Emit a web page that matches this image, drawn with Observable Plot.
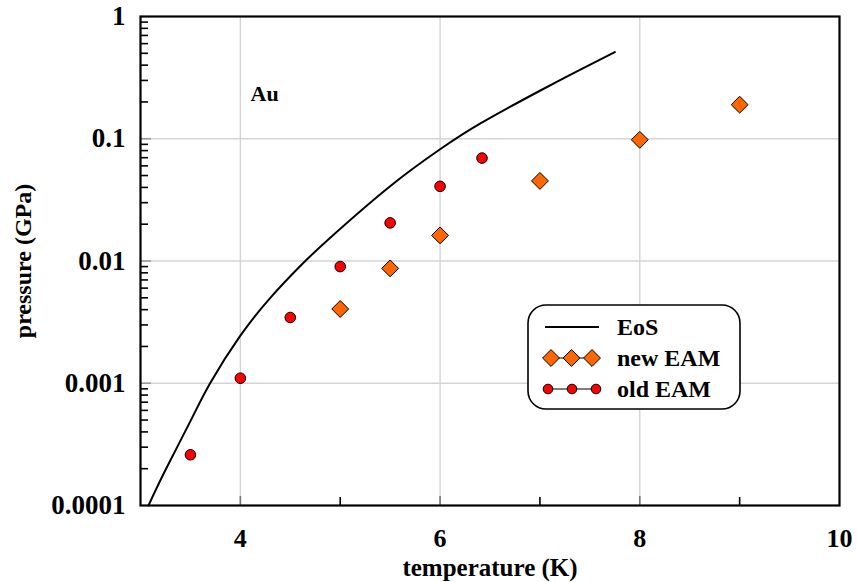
<!DOCTYPE html>
<html>
<head>
<meta charset="utf-8">
<script src="https://cdn.jsdelivr.net/npm/d3@7"></script>
<script src="https://cdn.jsdelivr.net/npm/@observablehq/plot@0.6"></script>
<style>
  body { margin: 0; background: #fff; }
  #chart { width: 858px; height: 582px; }
</style>
</head>
<body>
<div id="chart"></div>
<script>
// Equation-of-state curve: temperature (K) vs pressure (GPa)
const eosT = [3.08, 3.25, 3.5, 3.7, 4.0, 4.3, 4.6, 4.9, 5.5, 6.0, 6.4, 7.0, 7.4, 7.75];
const eosP = [0.0001, 0.000195, 0.00049, 0.00101, 0.00245, 0.0050, 0.0091, 0.0155, 0.0409, 0.082, 0.1329, 0.247, 0.366, 0.512];

// New EAM potential results
const newT = [5, 5.5, 6, 7, 8, 9];
const newP = [0.00405, 0.0087, 0.0162, 0.0452, 0.098, 0.19];

// Old EAM potential results
const oldT = [3.5, 4, 4.5, 5, 5.5, 6, 6.42];
const oldP = [0.00026, 0.00110, 0.00345, 0.0090, 0.0205, 0.0408, 0.0695];

const xTicks = [4, 6, 8, 10];
const xTickLabels = ["4", "6", "8", "10"];
const xMinor = [5, 7, 9];
const yTicks = [1, 0.1, 0.01, 0.001, 0.0001];
const yTickLabels = ["1", "0.1", "0.01", "0.001", "0.0001"];
const legendLabels = ["EoS", "new EAM", "old EAM"];

const serif = "'Liberation Serif', 'Times New Roman', Times, serif";
const W = 858, H = 582, mL = 140, mR = 19, mT = 16, mB = 77;
const frameW = W - mL - mR, frameH = H - mT - mB;

const eos = eosT.map((t, i) => ({t, p: eosP[i]}));
const newEam = newT.map((t, i) => ({t, p: newP[i]}));
const oldEam = oldT.map((t, i) => ({t, p: oldP[i]}));
const yLabelRows = yTicks.map((v, i) => ({v, label: yTickLabels[i]}));
const xLabelRows = xTicks.map((v, i) => ({v, label: xTickLabels[i]}));

// log minor ticks 2..9 within each decade
const yMinor = [];
for (let e = -4; e < 0; e++) for (let m = 2; m <= 9; m++) yMinor.push(m * Math.pow(10, e));

const RED = "#ff0000", ORANGE = "#ff6600";
const circleR = 5.3, diamondR = 7.6;

const chart = Plot.plot({
  width: W, height: H,
  marginLeft: mL, marginRight: mR, marginTop: mT, marginBottom: mB,
  style: {fontFamily: serif, background: "white", overflow: "visible"},
  x: {domain: [3, 10], axis: null},
  y: {type: "log", domain: [1e-4, 1], axis: null},
  marks: [
    Plot.gridX([4, 6, 8], {stroke: "#d4d4d4", strokeOpacity: 1, strokeWidth: 1.4}),
    Plot.gridY([0.1, 0.01, 0.001], {stroke: "#d4d4d4", strokeOpacity: 1, strokeWidth: 1.4}),
    // inward ticks
    Plot.ruleX([4, 6, 8], {insetTop: frameH - 9, stroke: "#777", strokeWidth: 1.6}),
    Plot.ruleX(xMinor, {insetTop: frameH - 8, stroke: "black", strokeWidth: 1.6}),
    Plot.ruleY([0.1, 0.01, 0.001], {insetRight: frameW - 11, stroke: "#999", strokeWidth: 1.6}),
    Plot.ruleY(yMinor, {insetRight: frameW - 8, stroke: "black", strokeWidth: 1.6}),
    Plot.line(eos, {x: "t", y: "p", curve: "natural", stroke: "black", strokeWidth: 2}),
    Plot.dot(oldEam, {x: "t", y: "p", r: circleR, fill: RED, stroke: "black", strokeWidth: 1}),
    Plot.dot(newEam, {x: "t", y: "p", symbol: "diamond2", r: diamondR, fill: ORANGE, stroke: "black", strokeWidth: 1}),
    Plot.frame({stroke: "black", strokeWidth: 2.2}),
    // tick labels
    Plot.text(xLabelRows, {x: "v", text: "label", frameAnchor: "bottom", lineAnchor: "top", dy: 23,
      fontSize: 26, fontWeight: "bold"}),
    Plot.text(yLabelRows, {y: "v", text: "label", frameAnchor: "left", textAnchor: "end", lineAnchor: "middle", dx: -15,
      fontSize: 27, fontWeight: "bold"}),
    // axis titles and annotation
    Plot.text(["temperature (K)"], {text: d => d, frameAnchor: "bottom", textAnchor: "middle", lineAnchor: "bottom",
      dy: 70, fontSize: 25, fontWeight: "bold"}),
    Plot.text(["pressure (GPa)"], {text: d => d, frameAnchor: "left", textAnchor: "middle", lineAnchor: "middle",
      rotate: -90, dx: -117, fontSize: 24, fontWeight: "bold"}),
    Plot.text(["Au"], {text: d => d, frameAnchor: "top-left", textAnchor: "start", lineAnchor: "middle",
      dx: 110, dy: 77, fontSize: 22, fontWeight: "bold"})
  ]
});

document.getElementById("chart").appendChild(chart);

// Legend box
const svg = d3.select(chart);
const lg = svg.append("g").attr("font-family", serif).attr("font-weight", "bold")
  .attr("font-size", 24).attr("text-anchor", "start");
lg.append("rect").attr("x", 528).attr("y", 305).attr("width", 212).attr("height", 104).attr("rx", 18)
  .attr("fill", "white").attr("stroke", "black").attr("stroke-width", 1.6);

const sx0 = 547, sx1 = 596, rows = [327, 358, 389];
// EoS sample
lg.append("line").attr("x1", 545).attr("x2", 599).attr("y1", rows[0]).attr("y2", rows[0])
  .attr("stroke", "black").attr("stroke-width", 2);
// new EAM sample
lg.append("line").attr("x1", sx0).attr("x2", sx1).attr("y1", rows[1]).attr("y2", rows[1]).attr("stroke", "black").attr("stroke-width", 1.2);
const diamondPath = d3.symbol(d3.symbolDiamond2, Math.PI * diamondR * diamondR)();
[551, 571.5, 592].forEach(x => lg.append("path").attr("d", diamondPath)
  .attr("transform", `translate(${x},${rows[1]})`).attr("fill", ORANGE).attr("stroke", "black").attr("stroke-width", 1));
// old EAM sample
lg.append("line").attr("x1", sx0).attr("x2", sx1).attr("y1", rows[2]).attr("y2", rows[2]).attr("stroke", "black").attr("stroke-width", 1.2);
[548, 572, 596].forEach(x => lg.append("circle").attr("cx", x).attr("cy", rows[2]).attr("r", 4.8)
  .attr("fill", RED).attr("stroke", "black").attr("stroke-width", 1));

legendLabels.forEach((s, i) => lg.append("text").attr("x", 617).attr("y", rows[i] + 8).text(s));
</script>
</body>
</html>
